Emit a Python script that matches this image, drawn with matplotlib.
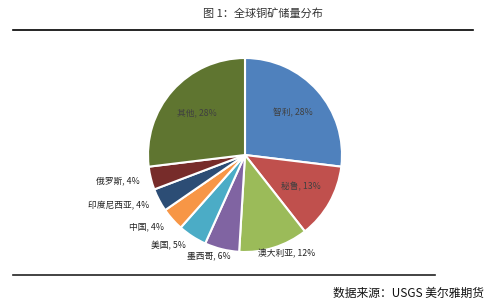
import numpy as np
import matplotlib.pyplot as plt

plt.rcParams['font.family'] = ['Noto Sans CJK SC', 'DejaVu Sans']

countries = ['智利', '秘鲁', '澳大利亚', '墨西哥', '美国', '中国', '印度尼西亚', '俄罗斯', '其他']
shares = [28, 13, 12, 6, 5, 4, 4, 4, 28]
colors = ['#4F81BD', '#C0504D', '#9BBB59', '#8064A2', '#4BACC6',
          '#F79646', '#2C4D75', '#772C2A', '#5F7530']
inside = ['智利', '秘鲁', '其他']

fig = plt.figure(figsize=(5, 3.05), dpi=100)

# pie axes: centre ~ (245,155) px, radius ~97 px
cx, cy, r = 245, 155, 97
ax = fig.add_axes([(cx - r) / 500, (305 - cy - r) / 305, 2 * r / 500, 2 * r / 305])
wedges, _ = ax.pie(shares, colors=colors, startangle=90, counterclock=False,
                   wedgeprops=dict(edgecolor='white', linewidth=1.5))
ax.set_xlim(-1, 1)
ax.set_ylim(-1, 1)

for w, name, val in zip(wedges, countries, shares):
    ang = np.deg2rad((w.theta1 + w.theta2) / 2)
    lab = f'{name}, {val}%'
    if name in inside:
        d = 0.66
        x, y = d * np.cos(ang), d * np.sin(ang)
        ax.text(x, y, lab, ha='center', va='center', fontsize=6.3, color='#404040')
    else:
        d = 1.12
        x, y = d * np.cos(ang), d * np.sin(ang)
        if abs(np.cos(ang)) < 0.35:
            ha, va = 'center', 'top'
            x, y = 1.05 * np.cos(ang) + 0.12 * np.sign(np.cos(ang)), 1.02 * np.sin(ang)
        else:
            ha, va = ('left' if x > 0 else 'right'), 'center'
        ax.text(x, y, lab, ha=ha, va=va, fontsize=6.3, color='#222222')

fig.text(263 / 500, 1 - 13 / 305, '图 1：全球铜矿储量分布', ha='center', va='center',
         fontsize=8, color='#333333')
fig.add_artist(plt.Line2D([13 / 500, 473 / 500], [1 - 30 / 305] * 2, color='black', lw=1.2))
fig.add_artist(plt.Line2D([13 / 500, 435 / 500], [1 - 275 / 305] * 2, color='#222222', lw=1.2))
fig.text(484 / 500, 1 - 293 / 305, '数据来源：USGS 美尔雅期货', ha='right', va='center',
         fontsize=8.5, color='#111111')

fig.savefig('out.png', dpi=100)
